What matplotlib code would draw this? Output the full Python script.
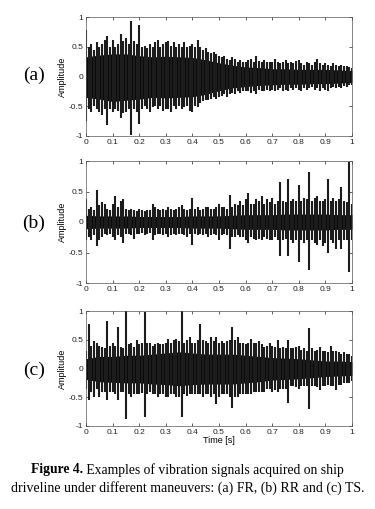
import numpy as np
import matplotlib
matplotlib.use("Agg")
import matplotlib.pyplot as plt

# ---- data ----
# coarse envelope of the solid black core
t_env = [0.0, 0.05, 0.1, 0.15, 0.2, 0.25, 0.3, 0.35, 0.4, 0.45, 0.5,
         0.55, 0.6, 0.65, 0.7, 0.75, 0.8, 0.85, 0.9, 0.95, 1.0]
# fine (0.01 s) outer envelope of the signal
t_fine = [round(0.01 * k, 2) for k in range(101)]

a_core_hi = [0.33, 0.36, 0.38, 0.38, 0.35, 0.33, 0.34, 0.33, 0.32, 0.28, 0.23,
             0.19, 0.16, 0.15, 0.13, 0.13, 0.12, 0.12, 0.12, 0.11, 0.10]
a_core_lo = [-0.35, -0.38, -0.42, -0.40, -0.38, -0.35, -0.36, -0.35, -0.34, -0.30, -0.24,
             -0.19, -0.17, -0.15, -0.14, -0.13, -0.13, -0.12, -0.12, -0.11, -0.10]
a_fine_hi = [0.78, 0.50, 0.55, 0.45, 0.58, 0.50, 0.55, 0.62, 0.68, 0.50,
             0.62, 0.50, 0.55, 0.72, 0.60, 0.65, 0.55, 0.93, 0.60, 0.55,
             0.86, 0.50, 0.52, 0.48, 0.55, 0.50, 0.58, 0.62, 0.50, 0.55,
             0.58, 0.60, 0.52, 0.58, 0.50, 0.55, 0.50, 0.58, 0.50, 0.52,
             0.55, 0.50, 0.62, 0.50, 0.45, 0.48, 0.42, 0.40, 0.42, 0.38,
             0.35, 0.32, 0.35, 0.30, 0.28, 0.33, 0.30, 0.25, 0.28, 0.25,
             0.25, 0.28, 0.30, 0.25, 0.35, 0.26, 0.24, 0.28, 0.25, 0.24,
             0.25, 0.30, 0.24, 0.22, 0.25, 0.28, 0.22, 0.24, 0.22, 0.26,
             0.28, 0.22, 0.20, 0.24, 0.22, 0.20, 0.25, 0.30, 0.22, 0.20,
             0.22, 0.20, 0.18, 0.22, 0.20, 0.18, 0.20, 0.17, 0.18, 0.16, 0.15]
a_fine_lo = [-0.75, -0.55, -0.60, -0.50, -0.55, -0.60, -0.65, -0.55, -0.82, -0.55,
             -0.60, -0.55, -0.58, -0.70, -0.62, -0.60, -0.55, -0.98, -0.55, -0.60,
             -0.80, -0.55, -0.50, -0.55, -0.60, -0.52, -0.50, -0.55, -0.50, -0.58,
             -0.55, -0.55, -0.60, -0.50, -0.55, -0.50, -0.55, -0.52, -0.50, -0.58,
             -0.60, -0.50, -0.52, -0.45, -0.42, -0.40, -0.40, -0.38, -0.35, -0.38,
             -0.35, -0.32, -0.30, -0.35, -0.30, -0.28, -0.30, -0.25, -0.28, -0.25,
             -0.25, -0.24, -0.28, -0.25, -0.30, -0.22, -0.24, -0.25, -0.22, -0.24,
             -0.22, -0.25, -0.22, -0.20, -0.24, -0.22, -0.25, -0.20, -0.22, -0.20,
             -0.22, -0.25, -0.20, -0.22, -0.20, -0.18, -0.22, -0.20, -0.24, -0.20,
             -0.22, -0.25, -0.20, -0.18, -0.20, -0.18, -0.20, -0.16, -0.18, -0.15, -0.15]

b_core_hi = [0.11, 0.10, 0.10, 0.10, 0.09, 0.09, 0.09, 0.09, 0.10, 0.10, 0.10,
             0.11, 0.12, 0.12, 0.12, 0.13, 0.13, 0.13, 0.13, 0.12, 0.12]
b_core_lo = [-0.11, -0.10, -0.10, -0.10, -0.09, -0.09, -0.09, -0.09, -0.10, -0.10, -0.10,
             -0.11, -0.12, -0.12, -0.12, -0.13, -0.13, -0.13, -0.13, -0.12, -0.12]
b_fine_hi = [0.38, 0.22, 0.25, 0.20, 0.53, 0.28, 0.32, 0.30, 0.22, 0.20,
             0.30, 0.42, 0.25, 0.35, 0.38, 0.22, 0.20, 0.22, 0.20, 0.18,
             0.22, 0.20, 0.18, 0.20, 0.20, 0.30, 0.25, 0.22, 0.20, 0.22,
             0.20, 0.25, 0.22, 0.20, 0.22, 0.24, 0.28, 0.22, 0.20, 0.22,
             0.40, 0.22, 0.25, 0.20, 0.22, 0.24, 0.25, 0.22, 0.22, 0.24,
             0.30, 0.25, 0.25, 0.22, 0.45, 0.25, 0.30, 0.28, 0.35, 0.28,
             0.38, 0.48, 0.30, 0.30, 0.38, 0.35, 0.42, 0.30, 0.38, 0.32,
             0.40, 0.30, 0.35, 0.65, 0.35, 0.32, 0.70, 0.35, 0.38, 0.35,
             0.60, 0.35, 0.40, 0.38, 0.82, 0.35, 0.40, 0.42, 0.35, 0.35,
             0.38, 0.70, 0.35, 0.40, 0.35, 0.38, 0.58, 0.35, 0.32, 0.98, 0.30]
b_fine_lo = [-0.30, -0.25, -0.30, -0.22, -0.40, -0.30, -0.25, -0.20, -0.22, -0.20,
             -0.25, -0.30, -0.22, -0.25, -0.35, -0.20, -0.20, -0.22, -0.28, -0.20,
             -0.20, -0.18, -0.22, -0.20, -0.18, -0.30, -0.22, -0.20, -0.20, -0.22,
             -0.20, -0.25, -0.22, -0.20, -0.22, -0.20, -0.20, -0.22, -0.25, -0.20,
             -0.38, -0.20, -0.22, -0.20, -0.22, -0.20, -0.25, -0.22, -0.20, -0.22,
             -0.30, -0.22, -0.20, -0.22, -0.45, -0.25, -0.25, -0.22, -0.25, -0.25,
             -0.30, -0.35, -0.25, -0.28, -0.30, -0.28, -0.30, -0.25, -0.28, -0.30,
             -0.30, -0.25, -0.30, -0.55, -0.30, -0.28, -0.55, -0.30, -0.35, -0.30,
             -0.65, -0.30, -0.35, -0.30, -0.78, -0.30, -0.35, -0.38, -0.30, -0.40,
             -0.35, -0.50, -0.30, -0.35, -0.45, -0.30, -0.45, -0.30, -0.30, -0.82, -0.30]

c_core_hi = [0.17, 0.21, 0.21, 0.23, 0.23, 0.25, 0.27, 0.29, 0.27, 0.25, 0.25,
             0.25, 0.23, 0.21, 0.19, 0.18, 0.17, 0.15, 0.13, 0.13, 0.12]
c_core_lo = [-0.19, -0.23, -0.24, -0.25, -0.25, -0.27, -0.28, -0.30, -0.28, -0.27, -0.27,
             -0.27, -0.25, -0.23, -0.20, -0.19, -0.18, -0.16, -0.14, -0.13, -0.12]
c_fine_hi = [0.30, 0.78, 0.40, 0.48, 0.45, 0.40, 0.38, 0.35, 0.82, 0.40,
             0.45, 0.40, 0.72, 0.38, 0.35, 1.00, 0.42, 0.45, 0.38, 0.50,
             0.42, 0.45, 0.98, 0.45, 0.45, 0.40, 0.42, 0.45, 0.42, 0.42,
             0.45, 0.52, 0.45, 0.50, 0.52, 0.48, 1.00, 0.45, 0.50, 0.55,
             0.45, 0.45, 0.50, 0.78, 0.50, 0.48, 0.45, 0.55, 0.48, 0.55,
             0.45, 0.48, 0.45, 0.48, 0.50, 0.72, 0.50, 0.55, 0.45, 0.45,
             0.42, 0.45, 0.52, 0.45, 0.45, 0.48, 0.42, 0.38, 0.40, 0.45,
             0.40, 0.38, 0.50, 0.35, 0.38, 0.35, 0.50, 0.35, 0.35, 0.38,
             0.40, 0.32, 0.35, 0.30, 0.70, 0.35, 0.30, 0.32, 0.38, 0.30,
             0.30, 0.28, 0.40, 0.30, 0.30, 0.28, 0.25, 0.28, 0.25, 0.25, 0.22]
c_fine_lo = [-0.35, -0.55, -0.40, -0.50, -0.35, -0.50, -0.40, -0.40, -0.55, -0.40,
             -0.40, -0.45, -0.55, -0.40, -0.40, -0.88, -0.45, -0.50, -0.45, -0.45,
             -0.45, -0.42, -0.85, -0.45, -0.40, -0.45, -0.45, -0.50, -0.45, -0.45,
             -0.50, -0.50, -0.45, -0.45, -0.50, -0.50, -0.85, -0.45, -0.48, -0.45,
             -0.45, -0.45, -0.45, -0.45, -0.50, -0.45, -0.45, -0.50, -0.45, -0.62,
             -0.50, -0.45, -0.45, -0.45, -0.50, -0.68, -0.50, -0.50, -0.45, -0.45,
             -0.45, -0.45, -0.45, -0.40, -0.40, -0.40, -0.40, -0.40, -0.35, -0.35,
             -0.40, -0.38, -0.40, -0.35, -0.35, -0.35, -0.60, -0.30, -0.30, -0.32,
             -0.35, -0.30, -0.30, -0.30, -0.70, -0.30, -0.30, -0.32, -0.38, -0.30,
             -0.30, -0.28, -0.30, -0.30, -0.38, -0.28, -0.28, -0.25, -0.25, -0.25, -0.22]

panel_labels = ["(a)", "(b)", "(c)"]
yticks = [-1, -0.5, 0, 0.5, 1]
ytick_labels = ["-1", "-0.5", "0", "0.5", "1"]
xticks = [0, 0.1, 0.2, 0.3, 0.4, 0.5, 0.6, 0.7, 0.8, 0.9, 1.0]
xtick_labels = ["0", "0.1", "0.2", "0.3", "0.4", "0.5", "0.6", "0.7", "0.8", "0.9", "1"]

panels = [
    (a_core_hi, a_core_lo, a_fine_hi, a_fine_lo),
    (b_core_hi, b_core_lo, b_fine_hi, b_fine_lo),
    (c_core_hi, c_core_lo, c_fine_hi, c_fine_lo),
]

W, H = 375, 509
fig = plt.figure(figsize=(W / 100, H / 100), dpi=100)

# axes boxes in pixel coordinates: (left, top, right, bottom)
boxes = [(86, 17, 352, 136), (86, 161, 352, 283), (86, 311, 352, 426)]
label_y = [75, 223, 370]

for i, (box, data) in enumerate(zip(boxes, panels)):
    l, t, r, b = box
    ax = fig.add_axes([l / W, 1 - b / H, (r - l) / W, (b - t) / H])
    hi, lo, fh, fl = data
    ax.vlines(t_fine, fl, fh, color="#1c1c1c", lw=1.5)
    ax.fill_between(t_env, lo, hi, color="#0a0a0a", lw=0)
    ax.set_xlim(0, 1)
    ax.set_ylim(-1, 1)
    ax.set_yticks(yticks)
    ax.set_yticklabels(ytick_labels)
    ax.set_xticks(xticks)
    ax.set_xticklabels(xtick_labels)
    ax.tick_params(direction="in", length=2.5, width=0.5, labelsize=6,
                   top=True, right=True, pad=2, colors="#222222")
    for s in ax.spines.values():
        s.set_linewidth(0.5)
        s.set_color("#555555")
    for lab in ax.get_xticklabels() + ax.get_yticklabels():
        lab.set_family("Liberation Sans")
    ax.set_ylabel("Amplitude", fontsize=6.5, family="Liberation Sans", labelpad=1)
    if i == 2:
        ax.set_xlabel("Time [s]", fontsize=6.5, family="Liberation Sans", labelpad=0)
    fig.text(34 / W, 1 - label_y[i] / H, panel_labels[i], fontsize=14,
             family="Liberation Serif", ha="center", va="center")

cap1_y = 1 - 470 / H
t1 = fig.text(0, cap1_y, "Figure 4.", fontsize=9.8, family="Liberation Serif",
              weight="bold", ha="left", va="center")
t2 = fig.text(0, cap1_y, " Examples of vibration signals acquired on ship",
              fontsize=9.8, family="Liberation Serif", ha="left", va="center")
fig.canvas.draw()
w1 = t1.get_window_extent().width
w2 = t2.get_window_extent().width
x0 = (W - (w1 + w2)) / 2
t1.set_x(x0 / W)
t2.set_x((x0 + w1) / W)
fig.text(0.5, 1 - 488 / H,
         "driveline under different maneuvers: (a) FR, (b) RR and (c) TS.",
         fontsize=10, family="Liberation Serif", ha="center", va="center")

fig.savefig("out.png", dpi=100)
